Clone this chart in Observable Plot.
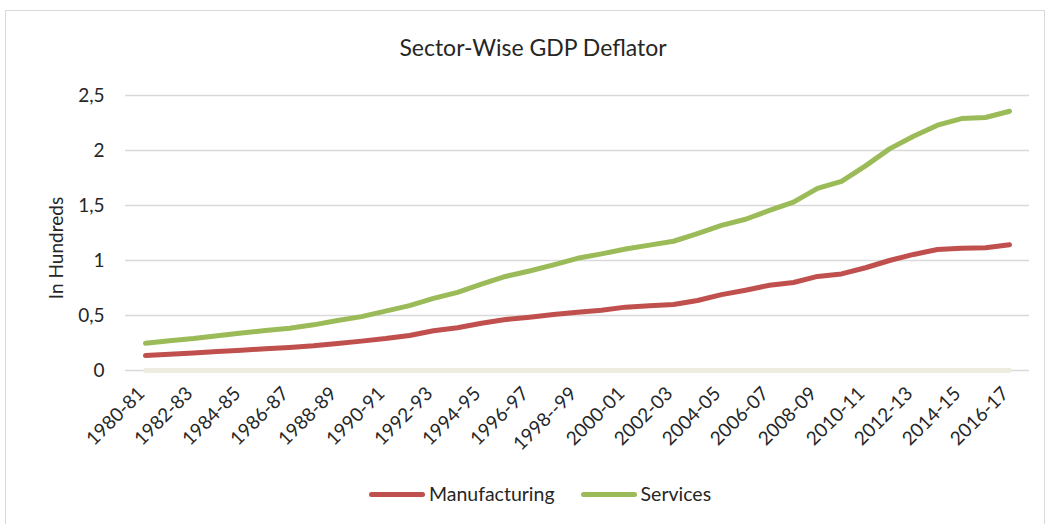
<!DOCTYPE html>
<html>
<head>
<meta charset="utf-8">
<script src="https://cdn.jsdelivr.net/npm/d3@7"></script>
<script src="https://cdn.jsdelivr.net/npm/@observablehq/plot@0.6"></script>
<style>
  html, body { margin: 0; padding: 0; background: #fff; }
  body { width: 1048px; height: 524px; position: relative; overflow: hidden; font-family: Lato, "Open Sans", sans-serif; color: #262626; }
  #frame { position: absolute; left: 5px; top: 10px; width: 1040px; height: 530px; border: 1.5px solid #d9d9d9; box-sizing: border-box; }
  #chart { position: absolute; left: 0; top: 0; width: 1048px; }
  #title { height: 80px; box-sizing: border-box; padding-top: 33px; line-height: 28px; font-size: 23px; text-align: center; padding-left: 18px; }
  #plot svg { display: block; }
  #legend { height: 48px; box-sizing: border-box; padding-top: 0; display: flex; justify-content: center; align-items: center; padding-left: 32px; font-size: 19.5px; line-height: 26px; }
  .item { display: flex; align-items: center; }
  .item + .item { margin-left: 26px; }
  .sw { width: 56px; height: 5px; border-radius: 3px; margin-right: 4px; }
</style>
</head>
<body>
<div id="frame"></div>
<div id="chart">
  <div id="title">Sector-Wise GDP Deflator</div>
  <div id="plot"></div>
  <div id="legend"></div>
</div>
<script>
const years = ["1980-81","1981-82","1982-83","1983-84","1984-85","1985-86","1986-87","1987-88","1988-89","1989-90",
  "1990-91","1991-92","1992-93","1993-94","1994-95","1995-96","1996-97","1997-98","1998--99","1999-00",
  "2000-01","2001-02","2002-03","2003-04","2004-05","2005-06","2006-07","2007-08","2008-09","2009-10",
  "2010-11","2011-12","2012-13","2013-14","2014-15","2015-16","2016-17"];
const tickLabels = ["1980-81","1982-83","1984-85","1986-87","1988-89","1990-91","1992-93","1994-95","1996-97","1998--99",
  "2000-01","2002-03","2004-05","2006-07","2008-09","2010-11","2012-13","2014-15","2016-17"];
const manufacturing = [0.136,0.148,0.160,0.173,0.185,0.197,0.209,0.224,0.245,0.267,
  0.290,0.318,0.362,0.388,0.430,0.463,0.485,0.510,0.530,0.548,
  0.576,0.588,0.600,0.636,0.690,0.730,0.775,0.800,0.855,0.878,
  0.934,1.000,1.055,1.100,1.112,1.115,1.143];
const services = [0.248,0.270,0.290,0.315,0.340,0.364,0.385,0.415,0.455,0.490,
  0.540,0.590,0.655,0.710,0.785,0.855,0.905,0.960,1.020,1.060,
  1.105,1.140,1.175,1.245,1.320,1.375,1.455,1.530,1.655,1.720,
  1.860,2.015,2.130,2.230,2.290,2.300,2.357];
const baseSeries = [0,0,0,0,0,0,0,0,0,0,0,0,0,0,0,0,0,0,0,0,0,0,0,0,0,0,0,0,0,0,0,0,0,0,0,0,0];
const yTicks = [0,0.5,1,1.5,2,2.5];
const seriesNames = ["Manufacturing","Services"];
const seriesColors = ["#C0504D","#9BBB59"];
const baseColor = "#EEECE1";

const data = [
  ...years.map((y,i) => ({year: y, value: manufacturing[i], series: "Manufacturing"})),
  ...years.map((y,i) => ({year: y, value: services[i], series: "Services"}))
];
const base = years.map((y,i) => ({year: y, value: baseSeries[i]}));

const chart = Plot.plot({
  width: 1048, height: 390,
  marginTop: 15, marginBottom: 100, marginLeft: 125, marginRight: 19,
  style: {fontFamily: "Lato, 'Open Sans', sans-serif", fontSize: "19px", color: "#262626", background: "transparent"},
  x: {type: "point", domain: years, padding: 0.5},
  y: {domain: [0, 2.5]},
  color: {domain: seriesNames, range: seriesColors},
  marks: [
    Plot.gridY(yTicks, {stroke: "#d9d9d9", strokeOpacity: 1, strokeWidth: 1.5}),
    Plot.axisY(yTicks, {tickSize: 0, tickPadding: 21, label: null, fontSize: 19,
      tickFormat: d => String(d).replace(".", ",")}),
    Plot.axisX(tickLabels, {tickSize: 0, tickPadding: 20, dx: -4, tickRotate: -45, label: null, fontSize: 19}),
    Plot.line(base, {x: "year", y: "value", stroke: baseColor, strokeWidth: 5, strokeLinecap: "round"}),
    Plot.line(data, {x: "year", y: "value", z: "series", stroke: "series", strokeWidth: 5,
      strokeLinecap: "round", strokeLinejoin: "round"}),
    Plot.text(["In Hundreds"], {frameAnchor: "left", textAnchor: "middle", rotate: -90, dx: -69, dy: 15, fontSize: 19, fill: "#262626"})
  ]
});
document.getElementById("plot").appendChild(chart);

const legend = document.getElementById("legend");
seriesNames.forEach((n, i) => {
  const it = document.createElement("div");
  it.className = "item";
  const sw = document.createElement("div");
  sw.className = "sw";
  sw.style.background = seriesColors[i];
  const t = document.createElement("span");
  t.textContent = n;
  it.appendChild(sw); it.appendChild(t);
  legend.appendChild(it);
});
</script>
</body>
</html>
